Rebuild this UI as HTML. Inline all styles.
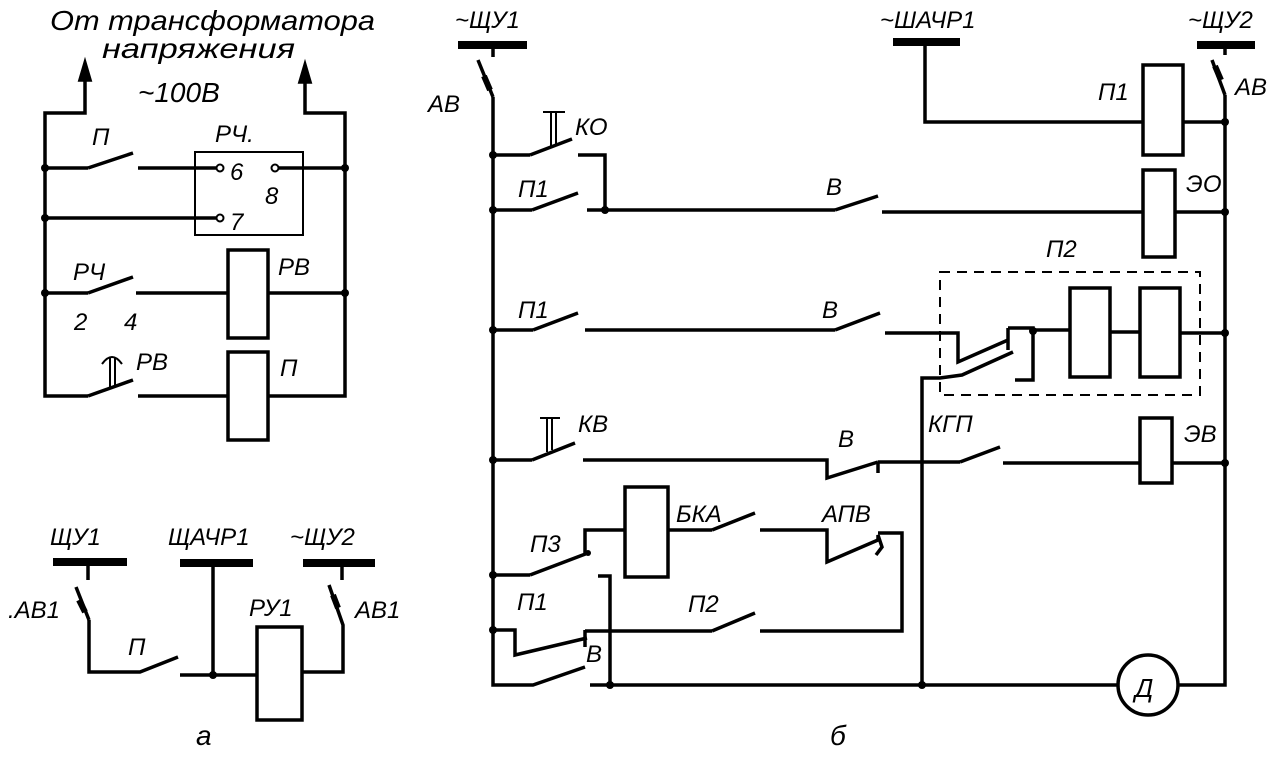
<!DOCTYPE html>
<html><head><meta charset="utf-8"><style>
html,body{margin:0;padding:0;background:#fff;}
svg{display:block}
text{font-family:"Liberation Sans","DejaVu Sans",sans-serif;font-style:italic;fill:#000;}
</style></head><body>
<svg width="1278" height="772" viewBox="0 0 1278 772" xmlns="http://www.w3.org/2000/svg">
<g stroke="#000" stroke-width="3.5" fill="none" stroke-linejoin="miter">
<polyline points="85,72 85,113 45,113 45,396 88,396"/>
<polyline points="305,72 305,113 345,113 345,396 268,396"/>
<polygon points="85,63 80,80 90,80" fill="#000"/>
<polygon points="305,65 300,82 310,82" fill="#000"/>
<line x1="45" y1="168" x2="88" y2="168"/><line x1="88" y1="168" x2="133" y2="153"/>
<line x1="138" y1="168" x2="216" y2="168"/>
<rect x="195" y="152" width="108" height="83" stroke-width="2"/>
<circle cx="220" cy="168" r="3.5" stroke-width="2"/>
<circle cx="275" cy="168" r="3.5" stroke-width="2"/>
<line x1="279" y1="168" x2="345" y2="168"/>
<line x1="45" y1="218" x2="216" y2="218"/>
<circle cx="220" cy="218" r="3.5" stroke-width="2"/>
<line x1="45" y1="293" x2="88" y2="293"/><line x1="88" y1="293" x2="133" y2="277"/>
<line x1="136" y1="293" x2="228" y2="293"/>
<rect x="228" y="250" width="40" height="88"/>
<line x1="268" y1="293" x2="345" y2="293"/>
<line x1="88" y1="396" x2="133" y2="380"/>
<line x1="138" y1="396" x2="228" y2="396"/>
<rect x="228" y="352" width="40" height="88"/>
<line x1="110" y1="358" x2="110" y2="388" stroke-width="2"/>
<line x1="115" y1="358" x2="115" y2="386" stroke-width="2"/>
<path d="M102,364 Q112,350 122,364" stroke-width="2"/>
<line x1="53" y1="562" x2="127" y2="562" stroke-width="8"/>
<line x1="88" y1="562" x2="88" y2="580"/>
<line x1="180" y1="563" x2="253" y2="563" stroke-width="8"/>
<line x1="213" y1="563" x2="213" y2="675"/>
<line x1="303" y1="563" x2="375" y2="563" stroke-width="8"/>
<line x1="342" y1="563" x2="342" y2="580"/>
<line x1="76" y1="587" x2="89" y2="620"/><line x1="79" y1="600" x2="85" y2="612" stroke-width="6"/>
<polyline points="89,620 89,672 140,672 178,657"/>
<line x1="180" y1="675" x2="257" y2="675"/>
<rect x="257" y="627" width="45" height="93"/>
<polyline points="302,672 343,672 343,625 329,585"/>
<line x1="333" y1="595" x2="338" y2="608" stroke-width="6"/>
<line x1="458" y1="45" x2="527" y2="45" stroke-width="8"/>
<line x1="493" y1="45" x2="493" y2="57"/>
<line x1="478" y1="60" x2="493" y2="97"/><line x1="484" y1="76" x2="490" y2="90" stroke-width="6"/>
<polyline points="493,97 493,685 533,685 585,667"/>
<line x1="893" y1="42" x2="960" y2="42" stroke-width="8"/>
<polyline points="925,42 925,122 1143,122"/>
<rect x="1143" y="65" width="40" height="90"/>
<line x1="1183" y1="122" x2="1225" y2="122"/>
<line x1="1197" y1="45" x2="1255" y2="45" stroke-width="8"/>
<line x1="1225" y1="45" x2="1225" y2="55"/>
<line x1="1212" y1="60" x2="1225" y2="95"/><line x1="1215" y1="66" x2="1221" y2="80" stroke-width="6"/>
<polyline points="1225,95 1225,685 1178,685"/>
<line x1="493" y1="155" x2="530" y2="155"/><line x1="530" y1="155" x2="572" y2="139"/>
<polyline points="578,155 605,155 605,210"/>
<line x1="551" y1="112" x2="551" y2="148" stroke-width="2"/><line x1="556" y1="112" x2="556" y2="146" stroke-width="2"/>
<line x1="543" y1="112" x2="565" y2="112" stroke-width="2"/>
<line x1="493" y1="210" x2="532" y2="210"/><line x1="532" y1="210" x2="578" y2="193"/>
<line x1="587" y1="210" x2="835" y2="210"/><line x1="835" y1="210" x2="878" y2="196"/>
<line x1="882" y1="212" x2="1143" y2="212"/>
<rect x="1143" y="170" width="32" height="87"/>
<line x1="1175" y1="212" x2="1225" y2="212"/>
<line x1="493" y1="330" x2="533" y2="330"/><line x1="533" y1="330" x2="578" y2="313"/>
<line x1="585" y1="330" x2="835" y2="330"/><line x1="835" y1="330" x2="880" y2="313"/>
<polyline points="885,333 958,333 958,362 1008,340"/>
<line x1="1008" y1="328" x2="1008" y2="350"/>
<polyline points="1008,328 1033,328 1033,380 1015,380"/>
<line x1="1033" y1="330" x2="1070" y2="330"/>
<rect x="1070" y="288" width="40" height="89"/>
<line x1="1110" y1="332" x2="1140" y2="332"/>
<rect x="1140" y="288" width="40" height="89"/>
<line x1="1180" y1="333" x2="1225" y2="333"/>
<polyline points="922,685 922,378 940,378 962,375 1013,352"/>
<rect x="940" y="272" width="260" height="123" stroke-width="2" stroke-dasharray="10,7"/>
<line x1="493" y1="460" x2="532" y2="460"/><line x1="532" y1="460" x2="575" y2="443"/>
<line x1="547" y1="418" x2="547" y2="452" stroke-width="2"/><line x1="552" y1="418" x2="552" y2="450" stroke-width="2"/>
<line x1="540" y1="418" x2="560" y2="418" stroke-width="2"/>
<polyline points="583,460 827,460 827,478 878,462"/>
<line x1="878" y1="462" x2="878" y2="473"/>
<line x1="878" y1="462" x2="960" y2="462"/><line x1="960" y1="462" x2="1000" y2="447"/>
<line x1="1003" y1="463" x2="1140" y2="463"/>
<rect x="1140" y="418" width="32" height="65"/>
<line x1="1172" y1="463" x2="1225" y2="463"/>
<line x1="493" y1="575" x2="530" y2="575"/><line x1="530" y1="575" x2="588" y2="553"/>
<polyline points="585,555 585,530 625,530"/>
<rect x="625" y="487" width="43" height="90"/>
<line x1="668" y1="530" x2="712" y2="530"/><line x1="712" y1="530" x2="755" y2="513"/>
<polyline points="760,530 827,530 827,562 878,540"/>
<path d="M878,540 L878,535 L882,547 L876,555"/>
<polyline points="878,533 902,533 902,631 760,631"/>
<polyline points="493,630 515,630 515,655 587,638"/>
<line x1="585" y1="630" x2="585" y2="647"/>
<line x1="585" y1="631" x2="712" y2="631"/><line x1="712" y1="631" x2="755" y2="613"/>
<polyline points="598,576 610,576 610,685"/>
<line x1="590" y1="685" x2="1118" y2="685"/>
<circle cx="1148" cy="685" r="30"/>
</g>
<g fill="#000">
<circle cx="45" cy="168" r="4"/><circle cx="345" cy="168" r="4"/><circle cx="45" cy="218" r="4"/>
<circle cx="45" cy="293" r="4"/><circle cx="345" cy="293" r="4"/><circle cx="213" cy="675" r="4"/>
<circle cx="493" cy="155" r="4"/><circle cx="493" cy="210" r="4"/><circle cx="605" cy="210" r="4"/>
<circle cx="1225" cy="122" r="4"/><circle cx="1225" cy="212" r="4"/><circle cx="493" cy="330" r="4"/>
<circle cx="1033" cy="331" r="4"/><circle cx="1225" cy="333" r="4"/><circle cx="493" cy="460" r="4"/>
<circle cx="1225" cy="463" r="4"/><circle cx="493" cy="575" r="4"/><circle cx="588" cy="553" r="3"/>
<circle cx="493" cy="630" r="4"/><circle cx="610" cy="685" r="4"/><circle cx="922" cy="685" r="4"/>
</g>
<g font-size="24">
<text x="50" y="30" font-size="28" textLength="325" lengthAdjust="spacingAndGlyphs">От трансформатора</text>
<text x="102" y="58" font-size="28" textLength="193" lengthAdjust="spacingAndGlyphs">напряжения</text>
<text x="138" y="102" font-size="28">~100В</text>
<text x="92" y="145">П</text><text x="215" y="142">РЧ.</text>
<text x="230" y="180">6</text><text x="265" y="204">8</text><text x="230" y="230">7</text>
<text x="73" y="280">РЧ</text><text x="278" y="275">РВ</text>
<text x="74" y="330">2</text><text x="124" y="330">4</text>
<text x="136" y="370">РВ</text><text x="280" y="376">П</text>
<text x="50" y="545">ЩУ1</text><text x="168" y="545">ЩАЧР1</text><text x="290" y="545">~ЩУ2</text>
<text x="8" y="618">.АВ1</text><text x="355" y="618">АВ1</text>
<text x="128" y="655">П</text><text x="249" y="616">РУ1</text>
<text x="196" y="745" font-size="28">а</text>
<text x="455" y="28">~ЩУ1</text><text x="428" y="112">АВ</text>
<text x="880" y="28">~ШАЧР1</text><text x="1188" y="28">~ЩУ2</text>
<text x="1235" y="95">АВ</text><text x="1098" y="100">П1</text>
<text x="575" y="135">КО</text><text x="518" y="197">П1</text>
<text x="826" y="195">В</text><text x="1186" y="192">ЭО</text>
<text x="1046" y="257">П2</text>
<text x="518" y="318">П1</text><text x="822" y="318">В</text>
<text x="578" y="432">КВ</text><text x="838" y="447">В</text>
<text x="928" y="432">КГП</text><text x="1184" y="442">ЭВ</text>
<text x="676" y="522">БКА</text><text x="822" y="522">АПВ</text>
<text x="530" y="552">П3</text><text x="517" y="610">П1</text>
<text x="688" y="612">П2</text><text x="586" y="662">В</text>
<text x="1135" y="697" font-size="26">Д</text>
<text x="830" y="745" font-size="28">б</text>
</g>
</svg>
</body></html>
